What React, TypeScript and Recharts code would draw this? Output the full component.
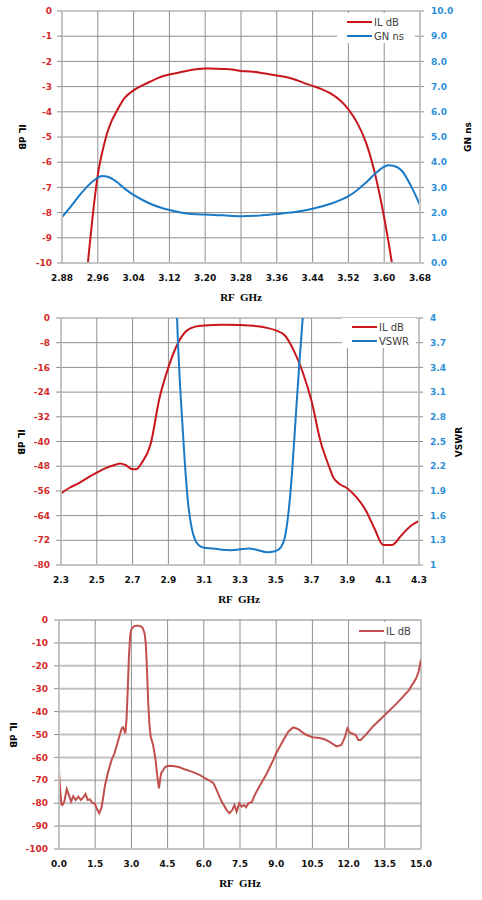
import React from "react";
import { LineChart, Line, XAxis, YAxis, CartesianGrid } from "recharts";

// ---- top panel: passband IL + group delay ----
const TOP_IL_FREQ = [
  2.93, 2.94, 2.95, 2.96, 2.97, 2.98, 2.99, 3.0, 3.02, 3.04, 3.06, 3.08, 3.1, 3.12, 3.14, 3.16, 3.18, 3.2,
  3.22, 3.24, 3.26, 3.28, 3.3, 3.32, 3.34, 3.36, 3.38, 3.4, 3.42, 3.44, 3.46, 3.48, 3.5, 3.52, 3.54, 3.56,
  3.58, 3.59, 3.6, 3.61, 3.62, 3.63,
];
const TOP_IL = [
  -11.5, -9.6, -7.9, -6.5, -5.6, -4.9, -4.4, -4.05, -3.45, -3.15, -2.95, -2.78, -2.62, -2.52, -2.45, -2.37,
  -2.31, -2.28, -2.29, -2.3, -2.32, -2.38, -2.4, -2.44, -2.5, -2.56, -2.62, -2.72, -2.85, -2.97, -3.1, -3.27,
  -3.52, -3.9, -4.45, -5.25, -6.5, -7.3, -8.2, -9.2, -10.3, -11.5,
];
const TOP_GN_FREQ = [
  2.88, 2.9, 2.92, 2.94, 2.96, 2.97, 2.98, 3.0, 3.02, 3.04, 3.06, 3.08, 3.1, 3.12, 3.14, 3.16, 3.18, 3.2,
  3.24, 3.28, 3.32, 3.36, 3.4, 3.44, 3.48, 3.52, 3.54, 3.56, 3.58, 3.6, 3.61, 3.62, 3.64, 3.66, 3.68,
];
const TOP_GN = [
  1.82, 2.25, 2.7, 3.1, 3.38, 3.45, 3.43, 3.25, 2.95, 2.7, 2.5, 2.33, 2.2, 2.1, 2.02, 1.96, 1.93, 1.92,
  1.89, 1.86, 1.88, 1.94, 2.02, 2.15, 2.35, 2.65, 2.9, 3.2, 3.55, 3.82, 3.88, 3.86, 3.65, 3.05, 2.3,
];
const TOP_X_TICKS = [2.88, 2.96, 3.04, 3.12, 3.2, 3.28, 3.36, 3.44, 3.52, 3.6, 3.68];
const TOP_IL_TICKS = [0, -1, -2, -3, -4, -5, -6, -7, -8, -9, -10];
const TOP_GN_TICKS = [0, 1, 2, 3, 4, 5, 6, 7, 8, 9, 10];

// ---- middle panel: IL + VSWR ----
const MID_IL_FREQ = [
  2.3, 2.35, 2.4, 2.45, 2.5, 2.55, 2.6, 2.63, 2.66, 2.7, 2.72, 2.75, 2.8, 2.85, 2.9, 2.95, 3.0, 3.05, 3.1,
  3.2, 3.3, 3.4, 3.45, 3.5, 3.55, 3.6, 3.65, 3.7, 3.75, 3.8, 3.82, 3.85, 3.9, 3.95, 4.0, 4.05, 4.1, 4.15,
  4.2, 4.25, 4.3,
];
const MID_IL = [
  -56.8, -54.9, -53.5, -51.7, -50.1, -48.6, -47.6, -47.1, -47.6, -49, -49, -47, -41, -26, -16, -8.5, -4.2,
  -2.8, -2.4, -2.2, -2.3, -2.7, -3.2, -4.0, -5.6, -10.5, -17.5, -27, -40, -48.5, -51.5, -53.5, -55.2, -58,
  -62, -68, -73.5, -73.5, -70.5, -67.5, -65.7,
];
const MID_VSWR_FREQ = [
  2.93, 2.95, 2.97, 2.99, 3.01, 3.03, 3.05, 3.07, 3.1, 3.15, 3.2, 3.25, 3.3, 3.35, 3.4, 3.45, 3.5, 3.53,
  3.55, 3.57, 3.59, 3.61, 3.63, 3.65, 3.67,
];
const MID_VSWR = [
  5.5, 3.9, 3.0, 2.3, 1.75, 1.45, 1.3, 1.24, 1.21, 1.2, 1.185, 1.18, 1.19, 1.2, 1.18, 1.155, 1.17, 1.22,
  1.33, 1.62, 2.1, 2.75, 3.4, 4.0, 4.8,
];
const MID_X_TICKS = [2.3, 2.5, 2.7, 2.9, 3.1, 3.3, 3.5, 3.7, 3.9, 4.1, 4.3];
const MID_IL_TICKS = [0, -8, -16, -24, -32, -40, -48, -56, -64, -72, -80];
const MID_VSWR_TICKS = [1, 1.3, 1.6, 1.9, 2.2, 2.5, 2.8, 3.1, 3.4, 3.7, 4];

// ---- bottom panel: wideband IL ----
const BOT_FREQ = [
  0.0, 0.05, 0.1, 0.14, 0.22, 0.32, 0.41, 0.5, 0.59, 0.69, 0.8, 0.91, 1.01, 1.1, 1.19, 1.28, 1.38, 1.49,
  1.59, 1.67, 1.77, 1.91, 2.04, 2.18, 2.3, 2.4, 2.5, 2.6, 2.65, 2.7, 2.75, 2.8, 2.85, 2.9, 2.95, 3.0, 3.1,
  3.2, 3.3, 3.4, 3.47, 3.55, 3.6, 3.65, 3.7, 3.75, 3.8, 3.9, 4.0, 4.07, 4.14, 4.23, 4.39, 4.5, 4.74, 5.0,
  5.2, 5.5, 5.84, 6.0, 6.26, 6.4, 6.53, 6.74, 6.95, 7.06, 7.18, 7.27, 7.36, 7.47, 7.57, 7.67, 7.75, 7.85,
  7.99, 8.08, 8.26, 8.61, 8.88, 9.0, 9.3, 9.5, 9.7, 9.9, 10.2, 10.5, 10.8, 11.0, 11.2, 11.5, 11.7, 11.85,
  11.95, 12.05, 12.2, 12.3, 12.4, 12.5, 12.7, 13.0, 13.5, 14.0, 14.5, 14.8, 14.9, 15.0,
];
const BOT_IL = [
  -66, -74, -80.5, -80.8, -79.3, -73.9, -76.4, -79.3, -76.9, -78.6, -77.1, -78.6, -77.4, -76, -78.6, -78.3,
  -79.8, -80.3, -83, -84.4, -81.5, -72, -66.2, -61.1, -58.2, -54.6, -50.9, -47.3, -46.9, -48, -49.5, -43,
  -30, -15.4, -6.7, -4, -2.8, -2.5, -2.5, -2.8, -3.5, -6, -11, -22.6, -37, -45.9, -51, -54.6, -61, -68,
  -73.5, -67, -64.3, -63.7, -63.8, -64.3, -65.2, -66.2, -67.7, -68.8, -70.2, -71.3, -74.2, -79.3, -83,
  -84.4, -83, -80.8, -83.7, -80, -81.5, -80.8, -81.8, -80, -79.6, -77.1, -73.5, -67, -61.1, -58.2, -52.4,
  -48.8, -46.9, -47.6, -49.9, -51.2, -51.5, -52.1, -53.1, -55.2, -54.6, -51, -47.3, -49.2, -49.8, -50.3,
  -52.4, -52.4, -50.3, -46.6, -41.5, -36.4, -30.6, -25.5, -22.6, -17.3,
];
const BOT_X_TICKS = [0, 1.5, 3, 4.5, 6, 7.5, 9, 10.5, 12, 13.5, 15];
const BOT_IL_TICKS = [0, -10, -20, -30, -40, -50, -60, -70, -80, -90, -100];

const RED = "#c8161d";
const RED_SOFT = "#c0504d";
const BLUE = "#1a7ac6";
const RED_TICK = "#d42a2a";
const BLUE_TICK = "#2f8fd8";
const GRID = "#8f8f8f";
const AXIS = "#c4c4c4";
const FONT = "DejaVu Sans";

const pairs = (f: number[], v: number[]) => f.map((x, i) => ({ f: x, v: v[i] }));

const tickStyle = (fill: string) => ({ fill, fontSize: 9, fontWeight: "bold", fontFamily: FONT });

function AxisTitle({ text, x, y, angle = 0 }: { text: string; x: number; y: number; angle?: number }) {
  return (
    <div
      style={{
        position: "absolute",
        left: x,
        top: y,
        transform: `translate(-50%, -50%) rotate(${angle}deg)`,
        fontFamily: FONT,
        fontWeight: "bold",
        fontSize: 9,
        color: "#000",
        whiteSpace: "nowrap",
      }}
    >
      {text}
    </div>
  );
}

function XTitle({ x, y }: { x: number; y: number }) {
  return (
    <div
      style={{
        position: "absolute",
        left: x,
        top: y,
        transform: "translate(-50%, -50%)",
        fontFamily: "Liberation Serif",
        fontWeight: "bold",
        fontSize: 11,
        color: "#000",
        whiteSpace: "pre",
      }}
    >
      {"RF  GHz"}
    </div>
  );
}

function LegendBox({ items, left, top, width, height }: { items: { name: string; color: string }[]; left: number; top: number; width: number; height: number }) {
  return (
    <div style={{ position: "absolute", left, top, width, height, background: "#fff" }}>
      {items.map((it, i) => (
        <div
          key={it.name}
          style={{ position: "absolute", left: 10, top: 3 + i * 14, display: "flex", alignItems: "center", height: 12 }}
        >
          <div style={{ width: 25, height: 2, background: it.color }} />
          <span style={{ fontFamily: FONT, fontSize: 10, color: "#404040", marginLeft: 2 }}>{it.name}</span>
        </div>
      ))}
    </div>
  );
}

function TopPanel() {
  return (
    <div style={{ position: "relative", width: 482, height: 305 }}>
      <LineChart width={482} height={305} margin={{ top: 11, right: 12, bottom: 12, left: 12 }}>
        <CartesianGrid yAxisId="left" stroke={GRID} strokeWidth={1} />
        <XAxis
          dataKey="f"
          type="number"
          domain={[2.88, 3.68]}
          ticks={TOP_X_TICKS}
          interval={0}
          allowDataOverflow
          height={30}
          tickLine={false}
          tickSize={0}
          tickMargin={12}
          tickFormatter={(v: number) => v.toFixed(2)}
          tick={tickStyle("#111")}
          axisLine={{ stroke: AXIS, strokeWidth: 2 }}
        />
        <YAxis
          yAxisId="left"
          type="number"
          domain={[-10, 0]}
          ticks={TOP_IL_TICKS}
          interval={0}
          allowDataOverflow
          width={50}
          tickSize={5}
          tickMargin={5}
          tick={tickStyle(RED_TICK)}
          tickLine={{ stroke: GRID }}
          axisLine={{ stroke: AXIS, strokeWidth: 2 }}
        />
        <YAxis
          yAxisId="right"
          orientation="right"
          type="number"
          domain={[0, 10]}
          ticks={TOP_GN_TICKS}
          interval={0}
          allowDataOverflow
          width={50}
          tickSize={4}
          tickMargin={7}
          tickFormatter={(v: number) => v.toFixed(1)}
          tick={tickStyle(BLUE_TICK)}
          tickLine={{ stroke: GRID }}
          axisLine={{ stroke: AXIS, strokeWidth: 2 }}
        />
        <Line yAxisId="left" data={pairs(TOP_IL_FREQ, TOP_IL)} dataKey="v" type="monotone" stroke={RED} strokeWidth={2} dot={false} isAnimationActive={false} />
        <Line yAxisId="right" data={pairs(TOP_GN_FREQ, TOP_GN)} dataKey="v" type="monotone" stroke={BLUE} strokeWidth={2} dot={false} isAnimationActive={false} />
      </LineChart>
      <AxisTitle text="IL dB" x={22} y={137} angle={90} />
      <AxisTitle text="GN ns" x={468} y={137} angle={-90} />
      <XTitle x={241} y={297} />
      <LegendBox
        left={337}
        top={13}
        width={78}
        height={30}
        items={[
          { name: "IL dB", color: RED },
          { name: "GN ns", color: BLUE },
        ]}
      />
    </div>
  );
}

function MiddlePanel() {
  return (
    <div style={{ position: "relative", width: 482, height: 300 }}>
      <LineChart width={482} height={300} margin={{ top: 13, right: 13, bottom: 10, left: 11 }}>
        <CartesianGrid yAxisId="left" stroke={GRID} strokeWidth={1} />
        <XAxis
          dataKey="f"
          type="number"
          domain={[2.3, 4.3]}
          ticks={MID_X_TICKS}
          interval={0}
          allowDataOverflow
          height={30}
          tickLine={false}
          tickSize={0}
          tickMargin={12}
          tickFormatter={(v: number) => v.toFixed(1)}
          tick={tickStyle("#111")}
          axisLine={{ stroke: AXIS, strokeWidth: 2 }}
        />
        <YAxis
          yAxisId="left"
          type="number"
          domain={[-80, 0]}
          ticks={MID_IL_TICKS}
          interval={0}
          allowDataOverflow
          width={50}
          tickSize={5}
          tickMargin={6}
          tick={tickStyle(RED_TICK)}
          tickLine={{ stroke: GRID }}
          axisLine={{ stroke: AXIS, strokeWidth: 2 }}
        />
        <YAxis
          yAxisId="right"
          orientation="right"
          type="number"
          domain={[1, 4]}
          ticks={MID_VSWR_TICKS}
          interval={0}
          allowDataOverflow
          width={50}
          tickSize={4}
          tickMargin={7}
          tick={tickStyle(BLUE_TICK)}
          tickLine={{ stroke: GRID }}
          axisLine={{ stroke: AXIS, strokeWidth: 2 }}
        />
        <Line yAxisId="left" data={pairs(MID_IL_FREQ, MID_IL)} dataKey="v" type="monotone" stroke={RED} strokeWidth={2} dot={false} isAnimationActive={false} />
        <Line yAxisId="right" data={pairs(MID_VSWR_FREQ, MID_VSWR)} dataKey="v" type="monotone" stroke={BLUE} strokeWidth={2} dot={false} isAnimationActive={false} />
      </LineChart>
      <AxisTitle text="IL dB" x={21} y={137} angle={90} />
      <AxisTitle text="VSWR" x={459} y={137} angle={-90} />
      <XTitle x={239} y={294} />
      <LegendBox
        left={342}
        top={13}
        width={74}
        height={30}
        items={[
          { name: "IL dB", color: RED },
          { name: "VSWR", color: BLUE },
        ]}
      />
    </div>
  );
}

function BottomPanel() {
  return (
    <div style={{ position: "relative", width: 482, height: 295 }}>
      <LineChart width={482} height={295} margin={{ top: 15, right: 61, bottom: 21, left: 9 }}>
        <CartesianGrid yAxisId="il" vertical={false} stroke="#c0c0c0" strokeWidth={2} />
        <CartesianGrid yAxisId="il" horizontal={false} stroke={GRID} strokeWidth={1} />
        <XAxis
          dataKey="f"
          type="number"
          domain={[0, 15]}
          ticks={BOT_X_TICKS}
          interval={0}
          allowDataOverflow
          height={30}
          tickLine={false}
          tickSize={0}
          tickMargin={12}
          tickFormatter={(v: number) => v.toFixed(1)}
          tick={tickStyle("#111")}
          axisLine={{ stroke: AXIS, strokeWidth: 2 }}
        />
        <YAxis
          yAxisId="il"
          type="number"
          domain={[-100, 0]}
          ticks={BOT_IL_TICKS}
          interval={0}
          allowDataOverflow
          width={50}
          tickSize={5}
          tickMargin={6}
          tick={tickStyle(RED_TICK)}
          tickLine={{ stroke: GRID }}
          axisLine={{ stroke: AXIS, strokeWidth: 2 }}
        />
        <Line yAxisId="il" data={pairs(BOT_FREQ, BOT_IL)} dataKey="v" type="linear" stroke={RED_SOFT} strokeWidth={2} dot={false} isAnimationActive={false} />
      </LineChart>
      <AxisTitle text="IL dB" x={13} y={130} angle={90} />
      <XTitle x={240} y={278} />
      <LegendBox left={349} top={17} width={70} height={19} items={[{ name: "IL dB", color: RED_SOFT }]} />
    </div>
  );
}

export default function App() {
  return (
    <div style={{ position: "absolute", left: 0, top: 0, width: 482, height: 900, background: "#fff" }}>
      <TopPanel />
      <MiddlePanel />
      <BottomPanel />
    </div>
  );
}
